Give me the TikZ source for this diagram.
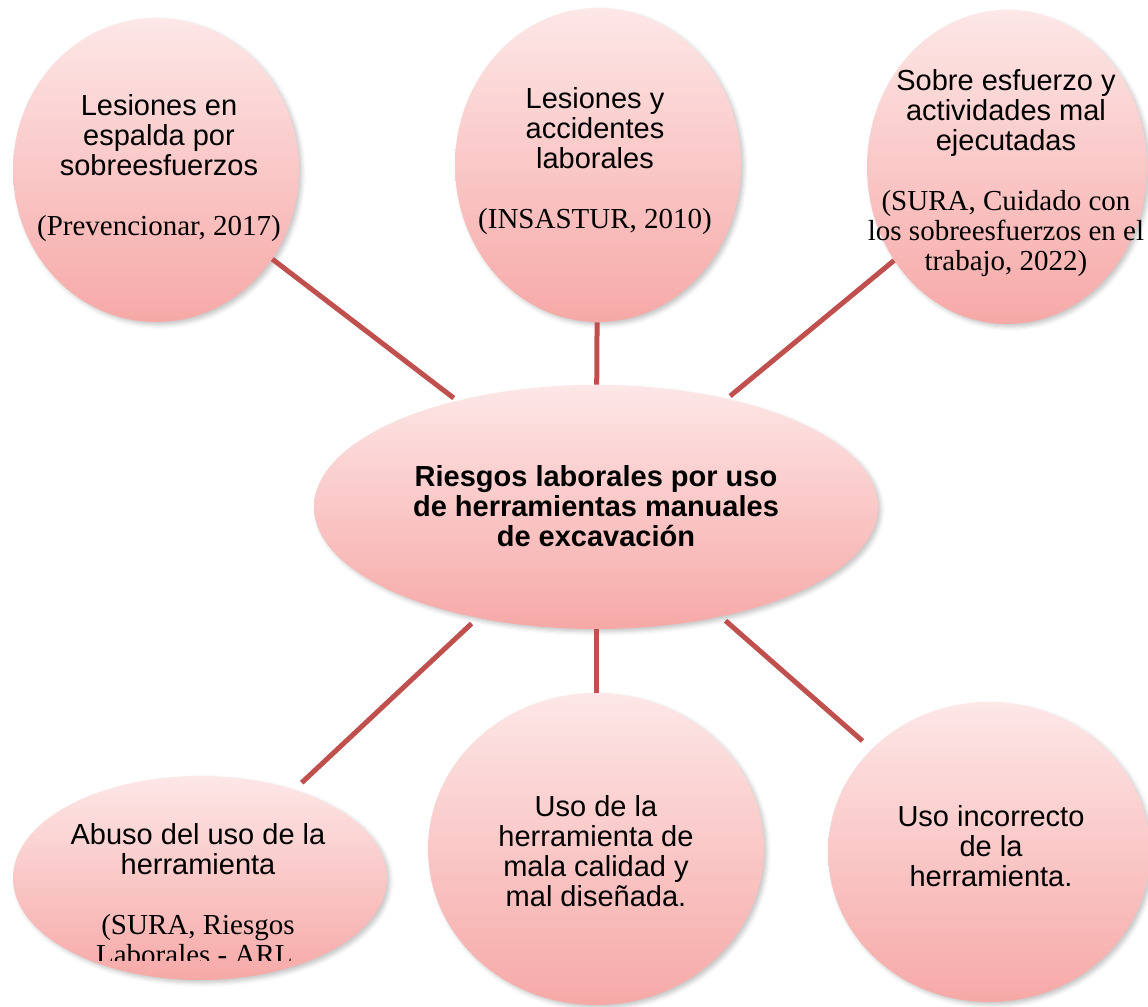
\documentclass[tikz,border=0pt]{standalone}
\usepackage{fontspec}
\setmainfont{Liberation Serif}
\setsansfont{Liberation Sans}
\usepackage{xcolor}
\usepackage{tikz}
\usetikzlibrary{shapes.geometric,shadows.blur}
\definecolor{riesgoclaro}{HTML}{FDE7E7}
\definecolor{riesgooscuro}{HTML}{F6A9A7}
\definecolor{riesgolinea}{HTML}{C0504D}
\newcommand{\cita}[1]{{\rmfamily #1}}
\tikzset{%
  riesgoburbuja/.style={%
    ellipse,
    draw=none,
    top color=riesgoclaro,
    bottom color=riesgooscuro,
    inner sep=0pt,
    blur shadow={shadow xshift=1.5pt,shadow yshift=-1.5pt,shadow blur radius=2pt,shadow opacity=22}
  },
  riesgotexto/.style={%
    align=center,
    inner sep=0pt,
    font=\sffamily\fontsize{14.5}{15}\selectfont
  },
  riesgocentro/.style={%
    riesgotexto,
    font=\sffamily\bfseries\fontsize{14.5}{15}\selectfont
  },
  riesgolazo/.style={draw=riesgolinea,line width=2.5pt}
}
\begin{document}
\begin{tikzpicture}[x=0.5pt,y=-0.5pt]
    \useasboundingbox (0,0) rectangle (1148,1007);
    \node[riesgoburbuja,minimum width=282pt,minimum height=122pt] (centro) at (596,507) {};
    \node[riesgoburbuja,minimum width=143pt,minimum height=152pt] (espalda) at (156,170) {};
    \node[riesgoburbuja,minimum width=143pt,minimum height=157pt] (lesiones) at (598,165) {};
    \node[riesgoburbuja,minimum width=140pt,minimum height=157pt] (esfuerzo) at (1007,167) {};
    \node[riesgoburbuja,minimum width=187pt,minimum height=102pt] (abuso) at (200,878) {};
    \node[riesgoburbuja,minimum width=168pt,minimum height=156pt] (calidad) at (596,849) {};
    \node[riesgoburbuja,minimum width=161pt,minimum height=150pt] (incorrecto) at (989,852) {};

    \node[riesgocentro] (centrotexto) at (596,506) {Riesgos laborales por uso\\de herramientas manuales\\de excavación};
    \node[riesgotexto] (espaldatexto) at (159,168) {Lesiones en\\espalda por\\sobreesfuerzos\\[15pt]\cita{(Prevencionar, 2017)}};
    \node[riesgotexto] (lesionestexto) at (595,161) {Lesiones y\\accidentes\\laborales\\[15pt]\cita{(INSASTUR, 2010)}};
    \node[riesgotexto] (esfuerzotexto) at (1006,173) {Sobre esfuerzo y\\actividades mal\\ejecutadas\\[15pt]\cita{(SURA, Cuidado con}\\\cita{los sobreesfuerzos en el}\\\cita{trabajo, 2022)}};
    \begin{scope}
      \clip (0,0) rectangle (1148,960);
      \node[riesgotexto] (abusotexto) at (198,896) {Abuso del uso de la\\herramienta\\[15pt]\cita{(SURA, Riesgos}\\\cita{Laborales - ARL,}};
    \end{scope}
    \node[riesgotexto] (calidadtexto) at (596,851) {Uso de la\\herramienta de\\mala calidad y\\mal diseñada.};
    \node[riesgotexto] (incorrectotexto) at (991,846) {Uso incorrecto\\de la\\herramienta.};

    \draw[riesgolazo,shorten >=2pt] (espalda) -- (centro);
    \draw[riesgolazo] (lesiones) -- (centro);
    \draw[riesgolazo,shorten >=2pt] (esfuerzo) -- (centro);
    \draw[riesgolazo,shorten <=4pt,shorten >=5pt] (centro) -- (abuso);
    \draw[riesgolazo] (centro) -- (calidad);
    \draw[riesgolazo,shorten <=3pt,shorten >=6pt] (centro) -- (incorrecto);
  \end{tikzpicture}
\end{document}
